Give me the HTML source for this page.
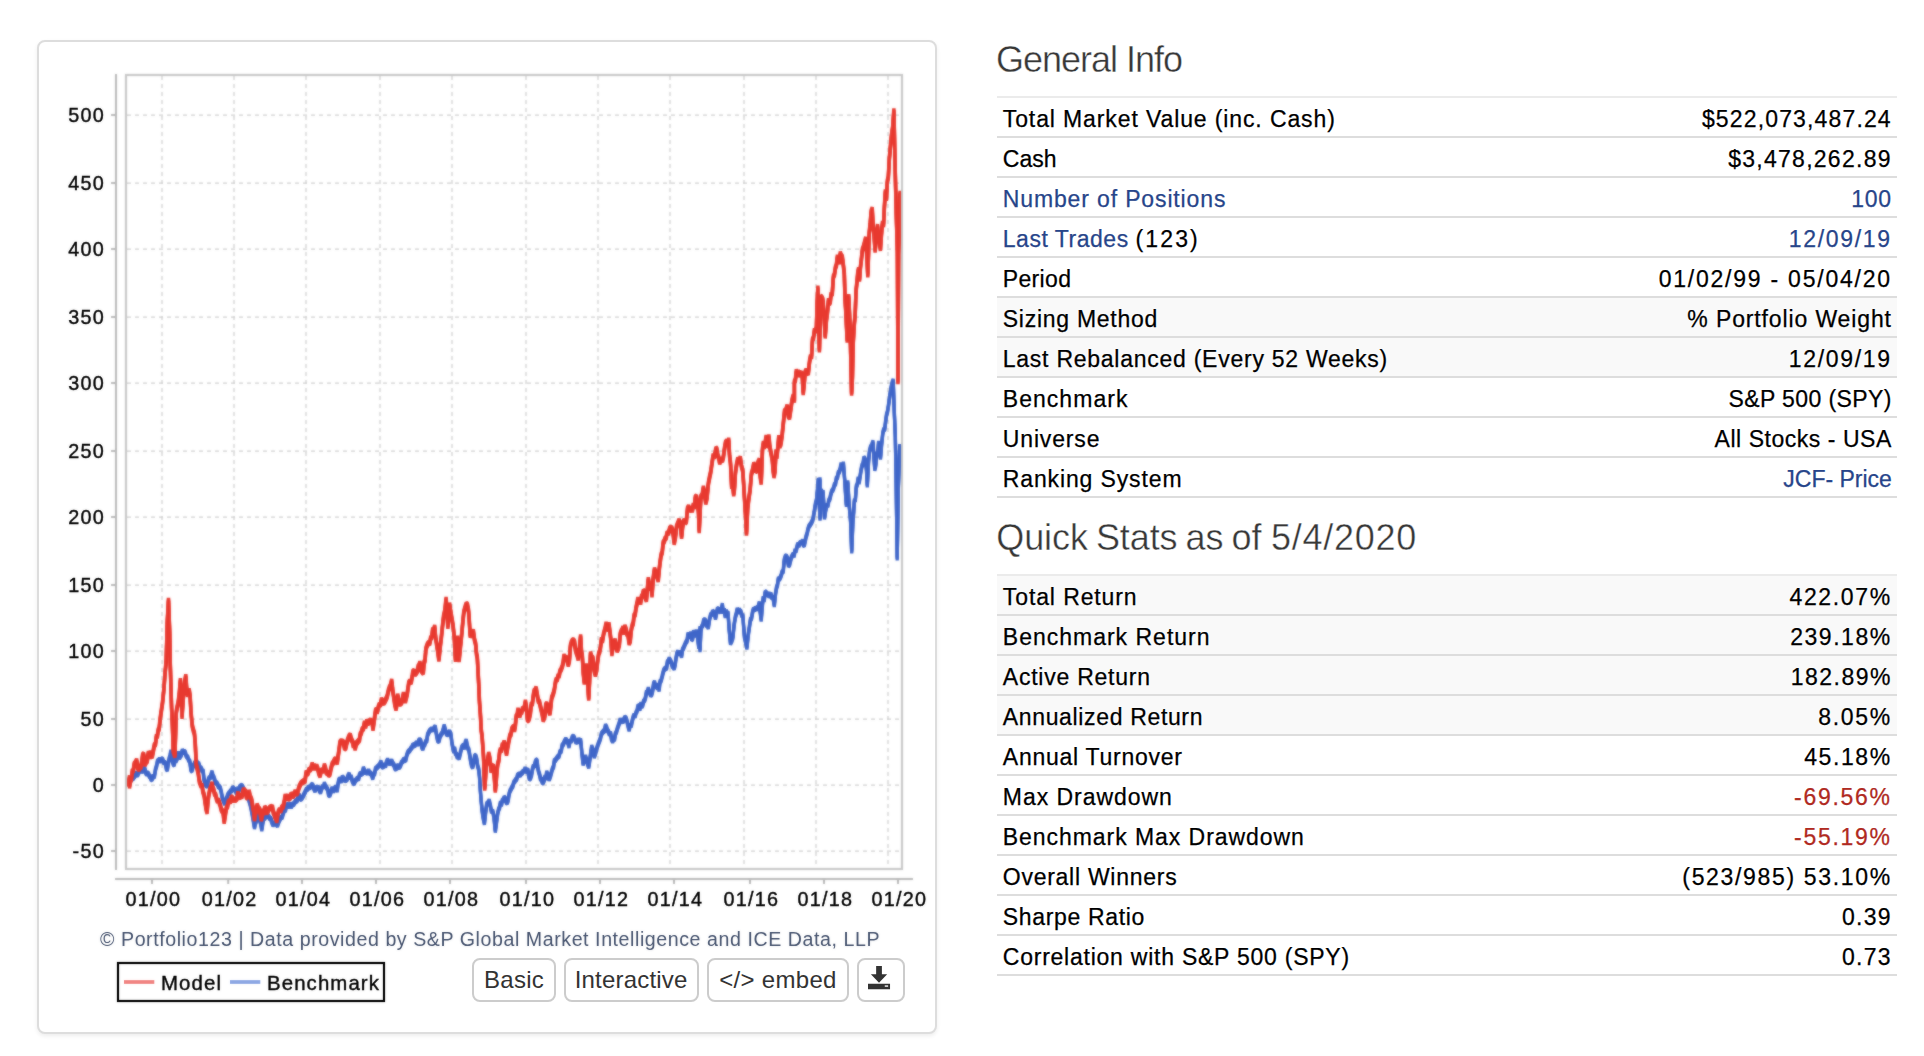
<!DOCTYPE html>
<html><head><meta charset="utf-8"><title>Portfolio</title>
<style>
html,body{margin:0;padding:0;background:#fff}
body{width:1924px;height:1056px;position:relative;overflow:hidden;font-family:"Liberation Sans",sans-serif}
.card{position:absolute;left:37px;top:40px;width:900px;height:994px;box-sizing:border-box;border:2px solid #ddd;border-radius:8px;box-shadow:0 2px 4px rgba(0,0,0,.075);background:#fff}
.btn{position:absolute;top:958px;height:44px;box-sizing:border-box;border:2px solid #ccc;border-radius:8px;background:#fff;color:#333;font-size:24px;line-height:40px;text-align:center;white-space:nowrap}
h3{position:absolute;left:997px;margin:0;font-weight:normal;font-size:36px;line-height:40px;color:#383838;white-space:nowrap;-webkit-text-stroke:0.4px #fff}
.tb{position:absolute;left:997px;width:900px}
.r{position:relative;height:38px;border-top:2px solid #ddd;font-size:23px;line-height:38px;color:#000;white-space:nowrap;-webkit-text-stroke:0.25px}
.r.f{border-top-color:#ebebeb}
.r.g{background:#f9f9f9}
.tb .r:last-child{border-bottom:2px solid #ddd}
.l{position:absolute;left:5.8px;top:2.0px}
.v{position:absolute;right:5.2px;top:2.0px}
.lk{color:#27458a}
.ng{color:#b02a22}
</style></head><body>
<div class="card"></div>
<svg width="960" height="1056" viewBox="0 0 960 1056" style="position:absolute;left:0;top:0">
<defs><filter id="bl" filterUnits="userSpaceOnUse" x="40" y="40" width="900" height="1000" color-interpolation-filters="sRGB"><feGaussianBlur in="SourceGraphic" stdDeviation="0.85" result="b"/><feComposite in="SourceGraphic" in2="b" operator="arithmetic" k1="0" k2="0.4" k3="0.6" k4="0"/></filter><filter id="bt" filterUnits="userSpaceOnUse" x="40" y="40" width="900" height="1000" color-interpolation-filters="sRGB"><feGaussianBlur in="SourceGraphic" stdDeviation="0.85" result="b"/><feComposite in="SourceGraphic" in2="b" operator="arithmetic" k1="0" k2="0.7" k3="0.3" k4="0"/></filter><clipPath id="cp"><rect x="127" y="76" width="774" height="792"/></clipPath></defs>
<g filter="url(#bl)">
<g stroke="#cecece" stroke-width="1.25" stroke-dasharray="4 4" fill="none"><line x1="162" y1="76" x2="162" y2="868"/><line x1="234" y1="76" x2="234" y2="868"/><line x1="306" y1="76" x2="306" y2="868"/><line x1="380" y1="76" x2="380" y2="868"/><line x1="452" y1="76" x2="452" y2="868"/><line x1="526" y1="76" x2="526" y2="868"/><line x1="598" y1="76" x2="598" y2="868"/><line x1="670" y1="76" x2="670" y2="868"/><line x1="744" y1="76" x2="744" y2="868"/><line x1="816" y1="76" x2="816" y2="868"/><line x1="888" y1="76" x2="888" y2="868"/><line x1="127" y1="115" x2="901" y2="115"/><line x1="127" y1="183" x2="901" y2="183"/><line x1="127" y1="249" x2="901" y2="249"/><line x1="127" y1="317" x2="901" y2="317"/><line x1="127" y1="383" x2="901" y2="383"/><line x1="127" y1="451" x2="901" y2="451"/><line x1="127" y1="517" x2="901" y2="517"/><line x1="127" y1="585" x2="901" y2="585"/><line x1="127" y1="651" x2="901" y2="651"/><line x1="127" y1="719" x2="901" y2="719"/><line x1="127" y1="785" x2="901" y2="785"/><line x1="127" y1="851" x2="901" y2="851"/></g>
<rect x="126" y="75" width="776" height="794" fill="none" stroke="#c6c6c6" stroke-width="2.1"/>
<g stroke="#b8b8b8" stroke-width="2" fill="none"><line x1="116" y1="74" x2="116" y2="870"/><line x1="115" y1="879" x2="913" y2="879"/><line x1="111" y1="115" x2="116" y2="115"/><line x1="111" y1="183" x2="116" y2="183"/><line x1="111" y1="249" x2="116" y2="249"/><line x1="111" y1="317" x2="116" y2="317"/><line x1="111" y1="383" x2="116" y2="383"/><line x1="111" y1="451" x2="116" y2="451"/><line x1="111" y1="517" x2="116" y2="517"/><line x1="111" y1="585" x2="116" y2="585"/><line x1="111" y1="651" x2="116" y2="651"/><line x1="111" y1="719" x2="116" y2="719"/><line x1="111" y1="785" x2="116" y2="785"/><line x1="111" y1="851" x2="116" y2="851"/><line x1="152" y1="879" x2="152" y2="884"/><line x1="228.2" y1="879" x2="228.2" y2="884"/><line x1="302" y1="879" x2="302" y2="884"/><line x1="376" y1="879" x2="376" y2="884"/><line x1="450" y1="879" x2="450" y2="884"/><line x1="526" y1="879" x2="526" y2="884"/><line x1="600" y1="879" x2="600" y2="884"/><line x1="674" y1="879" x2="674" y2="884"/><line x1="750" y1="879" x2="750" y2="884"/><line x1="824" y1="879" x2="824" y2="884"/><line x1="898" y1="879" x2="898" y2="884"/></g>
<g clip-path="url(#cp)" fill="none" stroke-linejoin="bevel" stroke-linecap="butt">
<g stroke="#3f66c9" stroke-width="3.3"><path id="sb" d="M128.3 784.4 L129.2 782.5 L130.1 780.8 L130.9 780.1 L131.8 778.3 L132.8 778.9 L133.7 777.3 L134.7 776.2 L135.6 772.9 L136.6 774.5 L137.5 775.1 L138.5 773.0 L139.4 771.1 L140.4 770.7 L141.3 770.6 L142.5 771.1 L143.7 770.1 L144.6 768.1 L145.6 772.2 L146.5 774.1 L147.5 773.4 L148.4 773.7 L149.3 776.0 L150.2 776.8 L151.1 779.2 L152.0 779.3 L153.2 776.4 L154.3 776.8 L155.5 769.5 L156.7 765.5 L157.6 760.8 L158.6 760.9 L159.5 759.0 L160.5 761.4 L161.4 759.2 L162.6 759.5 L163.8 762.7 L164.7 762.3 L165.6 764.1 L166.4 768.7 L167.3 769.9 L168.2 764.1 L169.1 759.0 L170.0 756.3 L170.9 751.1 L172.1 759.5 L173.3 764.0 L174.2 764.8 L175.1 758.9 L175.9 761.1 L176.8 759.1 L177.7 757.6 L178.6 752.6 L179.5 758.0 L180.4 756.0 L181.3 754.8 L182.3 750.4 L183.2 752.1 L184.2 751.9 L185.1 752.1 L186.0 755.2 L186.9 756.7 L187.8 757.5 L188.7 760.1 L189.8 761.4 L191.0 770.2 L192.0 770.5 L192.9 766.7 L193.9 764.8 L194.8 762.9 L195.8 762.6 L196.7 761.5 L197.7 764.0 L198.6 763.3 L199.6 766.8 L200.5 768.1 L201.4 768.5 L202.2 771.2 L203.1 770.5 L204.0 779.3 L205.2 783.5 L206.4 785.8 L207.3 785.6 L208.3 780.1 L209.2 777.8 L210.2 777.8 L211.1 774.8 L212.0 772.0 L212.9 775.6 L213.8 777.3 L214.7 779.9 L215.6 783.1 L216.6 782.8 L217.5 784.2 L218.5 786.6 L219.4 786.7 L220.3 788.2 L221.2 791.7 L222.1 796.7 L223.0 799.5 L223.8 801.4 L224.6 803.7 L225.6 801.1 L226.7 798.5 L227.7 795.0 L228.7 793.4 L229.6 792.9 L230.6 790.8 L231.5 791.1 L232.5 787.8 L233.4 788.5 L234.4 789.5 L235.3 790.0 L236.3 792.7 L237.2 792.4 L238.1 788.1 L238.9 791.1 L239.8 786.8 L240.7 786.2 L241.7 785.8 L242.6 786.8 L243.6 788.9 L244.5 790.7 L245.5 792.5 L246.4 792.3 L247.2 794.3 L248.1 797.1 L249.0 800.5 L250.2 804.5 L251.1 808.2 L251.9 812.6 L252.8 817.5 L253.7 822.7 L254.5 827.7 L255.4 823.0 L256.2 821.4 L257.1 813.8 L258.4 816.2 L259.6 819.8 L260.7 823.5 L261.8 829.8 L262.9 822.1 L263.9 818.3 L265.0 818.0 L266.2 815.4 L267.3 816.0 L268.4 815.9 L269.6 818.3 L270.7 818.3 L271.8 822.2 L273.0 824.8 L274.1 823.4 L275.2 823.4 L276.4 824.3 L277.5 825.5 L278.6 822.1 L279.8 819.7 L280.9 817.2 L282.0 817.7 L283.2 813.5 L284.3 810.3 L285.4 810.5 L286.6 804.5 L287.7 805.3 L288.6 806.8 L289.4 804.7 L290.3 804.4 L291.2 807.0 L292.3 804.3 L293.5 804.4 L294.6 802.7 L295.7 801.0 L296.9 801.0 L298.0 797.9 L299.0 794.8 L300.0 799.1 L301.1 798.7 L302.1 797.9 L303.1 796.1 L304.2 793.9 L305.4 791.5 L306.5 789.2 L307.4 789.3 L308.2 787.8 L309.1 787.2 L310.2 787.4 L311.4 785.2 L312.5 784.8 L313.8 788.3 L315.0 790.9 L316.1 787.5 L317.3 788.0 L318.4 787.4 L319.4 790.5 L320.5 792.3 L321.6 788.6 L322.7 786.5 L323.6 787.1 L324.4 783.5 L325.3 786.0 L326.4 787.4 L327.6 789.5 L328.7 794.9 L329.8 795.4 L331.0 791.9 L332.1 788.2 L333.2 791.0 L334.4 789.4 L335.5 786.9 L336.4 788.6 L337.2 790.9 L338.0 784.2 L338.9 779.8 L340.0 779.4 L341.2 781.5 L342.3 777.0 L343.4 778.0 L344.6 780.5 L345.7 779.8 L346.8 779.9 L348.0 776.0 L349.1 774.1 L350.1 778.0 L351.1 776.4 L352.2 780.8 L353.2 782.7 L354.2 783.4 L355.3 780.7 L356.5 779.5 L357.6 778.2 L358.5 779.2 L359.4 775.2 L360.2 773.7 L361.1 773.7 L362.2 774.0 L363.4 768.2 L364.5 770.6 L365.5 772.7 L366.5 771.9 L367.6 773.2 L368.6 770.5 L369.6 773.0 L370.6 773.3 L371.7 774.9 L372.7 778.3 L373.6 774.5 L374.6 773.8 L375.5 768.8 L376.6 767.9 L377.6 766.9 L378.7 765.7 L379.8 764.5 L380.9 761.8 L382.1 766.5 L383.2 766.9 L384.3 764.7 L385.5 766.1 L386.6 761.8 L387.6 759.9 L388.6 762.2 L389.7 763.6 L390.7 762.1 L391.7 760.9 L392.8 763.5 L393.9 765.0 L394.9 768.2 L396.0 769.2 L397.1 765.7 L398.3 766.7 L399.4 767.3 L400.5 765.5 L401.5 762.5 L402.6 761.5 L403.7 759.5 L404.7 759.9 L405.7 760.2 L406.8 755.2 L407.8 752.5 L408.8 751.2 L409.8 750.4 L410.8 748.6 L411.9 747.5 L412.9 744.9 L413.9 745.3 L414.9 745.5 L415.8 743.6 L416.8 742.9 L417.8 744.6 L418.8 740.5 L419.7 740.1 L420.7 740.8 L421.8 747.0 L422.8 748.9 L423.8 745.6 L424.8 744.3 L425.8 741.3 L426.7 741.1 L427.6 734.7 L428.4 733.2 L429.3 731.3 L430.4 730.1 L431.6 729.0 L432.7 729.7 L433.9 728.4 L435.2 726.7 L436.1 732.2 L436.9 736.7 L437.8 740.8 L438.9 741.1 L440.0 736.6 L441.3 734.2 L442.3 732.9 L443.2 729.5 L444.2 725.8 L445.2 729.5 L446.2 733.2 L447.2 734.7 L448.4 733.7 L449.6 731.5 L450.8 734.0 L452.0 743.4 L452.9 747.9 L453.8 751.6 L454.6 748.1 L455.5 753.8 L456.4 754.0 L457.3 757.4 L458.2 756.6 L459.1 758.2 L460.0 754.6 L460.9 750.7 L461.7 747.4 L462.6 746.2 L463.5 745.5 L464.4 748.2 L465.3 742.6 L466.2 740.4 L467.1 744.8 L467.9 748.2 L468.8 749.7 L469.7 754.9 L470.7 761.4 L471.6 765.4 L472.6 767.3 L473.6 762.9 L474.7 756.1 L475.7 755.8 L476.7 759.1 L477.7 766.2 L478.7 769.3 L479.5 776.6 L480.4 791.3 L481.2 801.1 L482.1 810.5 L483.2 817.8 L484.4 823.5 L485.6 812.6 L486.8 803.7 L488.0 802.9 L489.2 800.6 L490.4 805.9 L491.5 811.8 L492.7 811.0 L493.9 816.7 L495.3 831.3 L496.5 822.3 L497.7 813.5 L498.6 809.5 L499.6 807.5 L500.5 802.5 L501.4 805.0 L502.3 800.5 L503.2 800.2 L504.1 797.6 L505.1 798.3 L506.2 802.0 L507.2 802.9 L508.1 800.4 L509.1 794.0 L510.0 791.0 L510.9 789.4 L511.9 787.4 L512.8 786.1 L513.8 782.5 L514.7 781.4 L515.7 779.7 L516.6 779.3 L517.6 775.4 L518.5 774.6 L519.5 774.6 L520.4 775.1 L521.4 773.2 L522.3 773.0 L523.3 770.9 L524.2 771.5 L525.1 768.3 L526.0 771.8 L526.9 770.5 L527.8 769.6 L528.6 775.4 L529.4 778.7 L530.4 778.3 L531.5 775.0 L532.5 769.2 L533.4 766.0 L534.3 766.3 L535.2 762.6 L536.1 760.4 L537.0 760.5 L537.9 768.4 L538.7 772.1 L539.6 774.5 L540.5 778.9 L541.4 779.4 L542.3 782.5 L543.2 782.5 L544.1 780.4 L545.0 776.6 L545.8 778.6 L546.7 772.1 L547.9 775.4 L549.1 779.5 L550.0 777.4 L550.9 774.5 L551.7 771.4 L552.6 768.4 L553.5 767.0 L554.4 760.5 L555.3 760.4 L556.2 759.0 L557.2 757.6 L558.1 756.5 L559.0 756.2 L560.0 751.6 L561.1 751.6 L562.2 745.2 L563.1 744.8 L564.0 742.4 L564.9 740.7 L565.8 739.2 L566.9 741.4 L567.9 742.4 L569.0 746.7 L570.0 740.7 L571.1 741.5 L572.2 737.2 L573.2 736.7 L574.1 737.5 L575.0 739.7 L576.0 742.2 L576.9 741.5 L577.8 742.0 L578.8 739.4 L579.7 741.1 L580.6 739.9 L581.9 753.0 L583.1 764.3 L584.3 759.7 L585.5 756.4 L586.6 760.3 L587.6 763.9 L588.7 767.2 L589.7 760.5 L590.7 753.5 L591.7 746.5 L593.0 749.9 L594.2 756.7 L595.2 754.3 L596.1 751.1 L597.1 747.4 L598.2 744.3 L599.3 741.6 L600.4 738.5 L601.5 733.7 L602.5 732.5 L603.5 731.1 L604.5 731.1 L605.5 725.4 L606.5 727.2 L607.5 730.3 L608.4 731.5 L609.4 734.3 L610.5 732.9 L611.5 739.2 L612.6 741.3 L613.5 739.4 L614.5 739.6 L615.4 733.7 L616.3 732.3 L617.3 728.9 L618.3 725.9 L619.2 723.5 L620.2 719.6 L621.2 721.8 L622.1 720.8 L623.0 721.7 L624.0 719.1 L624.9 717.5 L626.0 718.3 L627.0 721.2 L628.0 725.6 L629.1 729.9 L630.2 725.1 L631.2 726.0 L632.3 720.5 L633.2 717.2 L634.1 715.2 L635.1 716.4 L636.0 712.7 L637.0 711.2 L638.0 706.0 L638.9 706.4 L639.9 709.3 L640.9 703.3 L641.8 706.5 L642.8 704.7 L643.7 701.1 L644.6 700.4 L645.5 697.8 L646.5 691.8 L647.4 692.2 L648.3 688.6 L649.5 692.4 L650.8 695.1 L651.7 694.5 L652.6 691.0 L653.6 683.9 L654.5 682.0 L655.4 687.1 L656.4 684.5 L657.3 688.3 L658.2 687.6 L659.1 690.1 L660.0 681.7 L661.0 680.9 L661.9 677.5 L662.8 673.9 L663.8 670.1 L664.7 669.0 L665.6 668.3 L666.5 668.7 L667.4 661.8 L668.3 661.3 L669.2 658.8 L670.2 660.3 L671.2 662.3 L672.2 665.9 L673.2 666.9 L674.2 668.3 L675.1 665.0 L676.0 658.4 L677.0 653.2 L677.9 652.0 L678.8 654.2 L679.8 652.0 L680.7 653.4 L681.6 656.4 L682.5 649.5 L683.4 648.3 L684.3 646.1 L685.2 643.9 L686.1 642.0 L687.0 641.2 L688.0 633.9 L688.9 635.5 L689.8 637.0 L690.8 633.0 L691.7 639.3 L692.6 639.0 L693.5 631.6 L694.5 634.2 L695.4 635.6 L696.3 630.9 L697.5 636.7 L698.8 647.5 L700.0 627.4 L700.0 650.8 L700.9 630.5 L701.8 626.4 L702.8 625.2 L703.7 620.1 L704.6 620.2 L705.5 620.7 L706.5 625.3 L707.4 625.7 L708.3 627.6 L709.5 619.4 L710.8 614.4 L711.7 614.7 L712.6 611.5 L713.6 612.4 L714.5 613.3 L715.5 618.4 L716.5 613.4 L717.4 609.1 L718.4 609.2 L719.4 610.8 L720.4 611.6 L721.4 609.8 L722.3 604.5 L723.3 612.2 L724.3 609.7 L725.2 616.7 L726.1 611.1 L727.1 613.4 L728.0 612.4 L729.2 629.8 L730.5 643.5 L731.7 641.0 L732.9 637.5 L734.1 624.9 L735.4 616.9 L736.3 614.0 L737.2 609.1 L738.2 612.5 L739.1 609.8 L740.0 611.1 L741.0 612.0 L741.9 616.0 L742.8 614.9 L743.6 626.1 L744.5 637.3 L745.7 642.5 L746.9 648.1 L748.1 636.1 L749.4 626.9 L750.5 619.5 L751.5 618.4 L752.6 612.0 L753.5 609.1 L754.5 609.6 L755.4 608.2 L756.3 608.9 L757.3 607.8 L758.3 606.9 L759.3 602.7 L760.2 612.0 L761.2 620.2 L762.2 607.1 L763.2 597.5 L764.2 600.6 L765.1 592.3 L766.1 592.6 L767.0 594.9 L768.0 593.3 L768.9 596.0 L769.8 595.3 L770.9 594.1 L771.9 598.0 L773.0 597.1 L774.3 605.7 L775.4 594.7 L776.5 587.8 L777.5 585.0 L778.4 578.3 L779.3 579.2 L780.2 577.7 L781.2 575.5 L782.1 571.9 L783.2 571.6 L784.2 560.4 L785.3 556.7 L786.3 556.2 L787.4 558.4 L788.5 565.5 L789.5 564.8 L790.4 560.8 L791.4 557.4 L792.3 555.7 L793.2 554.1 L794.1 556.0 L795.0 550.1 L796.0 551.1 L796.9 547.3 L797.8 544.0 L798.8 545.8 L799.7 543.5 L800.6 542.4 L801.5 543.0 L802.5 540.7 L803.4 544.8 L804.3 545.2 L805.2 540.8 L806.1 536.6 L807.1 533.6 L808.0 529.3 L808.9 526.5 L809.9 525.2 L810.8 523.8 L811.7 522.3 L812.9 519.4 L814.1 512.8 L815.4 504.3 L816.6 499.5 L817.5 489.5 L818.3 479.2 L819.1 501.5 L820.0 517.5 L820.0 478.7 L820.0 519.4 L821.2 490.3 L822.2 494.4 L823.1 491.5 L824.5 518.1 L825.7 510.2 L826.9 504.9 L827.9 505.9 L828.8 500.4 L829.8 499.1 L830.7 495.0 L831.7 491.2 L832.6 490.3 L833.6 488.1 L834.5 484.6 L835.5 483.9 L836.4 478.1 L837.4 477.9 L838.3 472.7 L839.2 472.0 L840.2 469.0 L841.1 464.0 L842.2 469.1 L843.4 463.1 L844.1 472.7 L844.9 482.5 L845.6 494.3 L846.4 505.5 L847.8 481.8 L849.1 504.8 L849.9 512.7 L850.6 521.6 L851.7 552.1 L852.9 521.3 L853.6 513.4 L854.4 500.2 L855.3 500.6 L856.3 486.5 L857.2 484.8 L858.2 478.1 L859.1 482.8 L860.0 476.9 L861.0 470.5 L862.0 465.5 L862.9 464.7 L863.9 457.8 L864.8 458.7 L865.8 462.0 L866.5 470.3 L867.3 486.0 L868.6 460.6 L869.5 451.3 L870.5 447.3 L871.8 445.3 L873.0 441.8 L873.9 457.4 L874.8 469.4 L875.8 464.9 L876.7 453.3 L877.7 454.0 L878.6 442.2 L879.5 452.8 L880.5 458.1 L881.6 444.6 L882.8 433.2 L883.7 429.6 L884.7 429.3 L885.6 421.7 L886.6 414.6 L887.5 411.8 L888.5 405.3 L889.5 398.0 L890.4 392.1 L891.3 386.7 L892.3 382.6 L893.2 380.2 L894.2 410.0 L895.3 435.8 L896.1 479.8 L897.2 559.0 L898.3 489.4 L899.0 467.9 L899.8 445.4"/><use href="#sb" transform="translate(0,-1.4)"/><use href="#sb" transform="translate(0,1.4)"/></g>
<g stroke="#e8392f" stroke-width="3.5"><path id="sr" d="M128.3 785.1 L129.5 776.9 L129.5 786.8 L130.4 781.3 L131.4 778.9 L132.3 770.9 L133.3 770.9 L134.2 764.1 L135.4 762.9 L136.6 760.2 L137.8 767.8 L138.9 769.4 L139.9 767.0 L140.8 767.5 L141.8 761.8 L142.7 754.8 L143.7 754.4 L144.8 764.7 L146.0 762.3 L147.2 760.9 L148.4 752.6 L149.3 757.2 L150.3 752.3 L151.2 755.7 L152.2 756.7 L153.1 751.9 L154.3 745.5 L155.5 744.0 L156.4 736.1 L157.3 736.6 L158.2 730.3 L159.1 728.9 L160.2 718.9 L161.4 710.4 L162.6 702.2 L163.8 690.3 L165.0 674.1 L166.2 660.6 L167.3 621.6 L168.5 599.5 L169.7 632.4 L170.2 661.8 L171.6 708.4 L172.4 725.8 L173.3 751.4 L174.1 753.5 L174.9 756.1 L176.3 712.2 L177.2 707.0 L178.0 703.9 L179.2 694.9 L180.4 679.8 L181.2 695.8 L182.0 717.3 L182.9 703.5 L183.9 690.3 L184.9 680.7 L185.8 675.8 L186.7 688.7 L187.5 695.2 L188.3 693.2 L189.1 689.9 L190.1 696.1 L191.0 712.3 L192.2 725.5 L193.4 730.5 L194.4 733.3 L195.3 744.2 L196.2 764.4 L197.2 768.6 L198.3 773.5 L199.3 781.0 L200.2 783.6 L201.1 785.9 L202.0 785.3 L202.9 791.6 L204.1 795.0 L205.2 802.8 L206.1 808.8 L207.1 812.3 L207.9 801.6 L208.8 795.0 L209.9 789.5 L211.1 786.6 L212.0 783.4 L212.9 788.3 L213.8 790.3 L214.7 794.2 L215.6 794.7 L216.6 799.0 L217.5 801.1 L218.5 800.1 L219.4 803.0 L220.3 805.4 L221.2 809.3 L222.1 811.2 L223.0 811.4 L224.2 822.2 L225.3 814.8 L226.5 807.6 L227.5 806.5 L228.4 802.0 L229.4 801.0 L230.3 802.0 L231.3 797.6 L232.2 797.6 L233.2 800.6 L234.1 798.9 L235.1 800.1 L236.0 799.3 L236.9 798.6 L237.9 793.0 L238.8 795.9 L239.8 797.8 L240.7 795.1 L241.7 797.1 L242.6 793.2 L243.6 789.3 L244.5 791.0 L245.5 791.2 L246.4 797.1 L247.2 797.4 L248.1 793.1 L249.0 797.2 L249.0 791.3 L250.2 796.6 L251.1 798.5 L251.9 800.8 L252.8 807.3 L253.7 811.1 L254.5 819.6 L255.4 813.8 L256.2 811.2 L257.1 805.1 L258.4 808.3 L259.6 809.4 L260.5 814.9 L261.3 819.7 L262.1 815.9 L263.0 810.5 L263.9 813.6 L264.7 807.5 L265.6 808.4 L266.7 812.7 L267.9 811.1 L269.0 809.1 L270.2 807.3 L271.5 807.4 L272.4 806.7 L273.2 812.0 L274.1 813.8 L275.0 817.2 L275.8 817.8 L276.7 821.3 L277.5 816.2 L278.4 811.9 L279.5 809.7 L280.7 811.1 L281.8 807.4 L283.1 806.8 L284.3 801.4 L285.2 795.6 L286.0 799.2 L286.9 795.8 L288.0 797.9 L289.2 798.5 L290.3 797.4 L291.2 794.0 L292.0 794.9 L292.9 796.1 L294.0 794.9 L295.2 791.5 L296.3 793.5 L297.4 793.3 L298.6 788.9 L299.7 785.8 L300.8 783.5 L301.8 782.5 L302.8 781.8 L303.9 781.1 L305.0 781.1 L306.2 772.1 L307.3 773.9 L308.2 772.6 L309.0 769.5 L309.9 769.8 L311.0 768.3 L312.2 764.0 L313.3 768.4 L314.4 765.6 L315.6 768.6 L316.7 765.8 L317.8 769.0 L319.0 773.6 L320.1 775.9 L321.0 771.1 L321.8 770.5 L322.7 770.5 L323.6 770.0 L324.4 765.2 L325.3 767.6 L326.4 772.7 L327.6 773.0 L328.7 774.7 L329.8 774.3 L331.0 768.5 L332.1 764.2 L333.4 762.5 L334.6 759.8 L335.5 759.4 L336.3 760.4 L337.2 763.0 L338.0 756.9 L338.9 751.1 L340.0 742.3 L341.2 741.2 L342.3 742.0 L343.4 741.9 L344.6 748.3 L345.7 748.0 L346.8 742.9 L348.0 738.9 L349.1 736.2 L350.2 735.0 L351.4 739.5 L352.5 741.7 L353.4 746.3 L354.2 742.3 L355.1 748.8 L356.4 743.4 L357.6 742.1 L358.5 740.8 L359.4 740.2 L360.2 734.5 L361.1 733.3 L362.2 729.4 L363.4 728.6 L364.5 722.5 L365.6 726.9 L366.8 720.9 L367.9 723.4 L369.1 721.6 L370.4 720.4 L371.3 721.7 L372.1 722.0 L373.0 729.2 L374.2 720.6 L375.5 711.0 L376.4 709.4 L377.2 712.2 L378.1 708.2 L379.2 704.7 L380.4 705.1 L381.5 699.3 L382.6 702.1 L383.8 702.9 L384.9 701.3 L386.0 699.2 L387.2 696.4 L388.3 691.2 L389.4 687.7 L390.6 685.3 L391.7 680.6 L392.6 689.2 L393.5 695.5 L394.8 704.2 L396.0 709.1 L396.9 704.0 L397.7 695.2 L398.6 700.0 L399.4 703.7 L400.3 703.5 L401.4 702.9 L402.4 699.6 L403.4 693.7 L404.5 698.0 L405.4 701.5 L406.2 697.8 L407.1 694.7 L408.0 688.5 L408.8 682.9 L409.9 681.2 L411.1 682.7 L412.2 676.5 L413.0 671.5 L413.9 671.2 L415.0 674.2 L416.2 673.0 L417.3 671.1 L418.2 666.4 L419.0 665.9 L419.9 662.7 L421.1 670.2 L422.4 672.0 L423.3 672.8 L424.1 662.3 L425.0 660.6 L425.9 648.8 L426.9 645.9 L427.8 643.9 L428.8 643.0 L429.7 643.7 L430.7 637.9 L431.7 637.5 L432.7 629.4 L433.7 630.1 L434.7 626.5 L435.6 637.4 L436.6 643.9 L437.8 651.5 L438.9 660.0 L440.1 647.8 L441.3 637.8 L442.5 626.1 L443.7 615.7 L444.9 610.7 L446.1 598.4 L447.0 612.1 L447.9 627.2 L448.8 614.0 L449.6 604.2 L450.8 612.5 L452.0 619.4 L453.1 626.0 L454.3 637.5 L455.5 660.3 L456.4 653.0 L457.4 637.2 L458.2 648.4 L459.1 660.5 L460.2 648.9 L461.4 637.4 L462.6 624.6 L463.8 612.3 L465.0 607.9 L466.2 604.0 L467.4 604.7 L468.6 611.2 L469.4 622.8 L470.2 636.1 L471.2 634.2 L472.3 634.7 L473.3 630.9 L474.5 639.7 L475.7 644.3 L476.5 653.9 L477.3 657.4 L478.7 683.8 L479.5 702.3 L480.4 714.3 L481.2 730.0 L482.1 736.4 L483.5 756.2 L484.7 789.0 L485.5 778.4 L486.3 764.6 L487.5 761.2 L488.7 753.5 L489.9 758.7 L491.1 771.3 L492.2 766.6 L493.4 765.9 L494.4 778.5 L495.3 791.1 L496.1 782.5 L497.0 770.0 L497.9 763.1 L498.8 760.6 L499.6 752.4 L500.5 749.4 L501.4 750.8 L502.3 744.6 L503.2 745.2 L504.1 742.0 L505.3 746.9 L506.5 754.1 L507.4 748.8 L508.2 744.5 L509.1 739.7 L510.0 735.2 L510.9 734.7 L511.8 729.1 L512.7 727.8 L513.6 726.8 L514.5 730.3 L515.4 724.9 L516.2 715.9 L517.1 715.6 L518.0 709.4 L518.9 713.0 L519.8 716.0 L520.7 712.4 L521.6 712.4 L522.6 708.4 L523.5 709.0 L524.5 706.9 L525.4 701.5 L526.4 707.2 L527.5 720.1 L528.5 720.0 L529.4 717.7 L530.4 713.0 L531.3 704.1 L532.3 704.3 L533.2 696.5 L534.2 690.6 L535.1 690.6 L536.1 688.1 L537.2 694.6 L538.4 701.4 L539.4 701.8 L540.3 706.0 L541.3 710.3 L542.2 713.9 L543.2 720.1 L544.1 718.2 L545.0 715.3 L545.8 704.7 L546.7 704.0 L547.9 706.3 L549.1 711.6 L550.0 713.7 L550.9 705.4 L551.7 697.7 L552.6 695.7 L553.5 693.1 L554.4 689.5 L555.3 683.1 L556.2 679.6 L557.2 679.9 L558.1 675.6 L559.0 676.3 L560.0 671.2 L561.1 669.5 L562.2 666.6 L563.1 663.2 L564.0 655.5 L564.9 659.3 L565.8 657.1 L567.0 659.7 L568.3 665.1 L569.4 660.4 L570.4 646.1 L571.5 642.2 L572.5 640.6 L573.5 640.2 L574.5 641.9 L575.4 649.4 L576.4 652.9 L577.3 655.3 L578.2 659.0 L579.4 648.8 L580.6 635.9 L581.5 651.7 L582.3 656.0 L583.3 673.3 L584.3 683.0 L585.3 676.0 L586.3 665.0 L587.5 680.4 L588.7 699.1 L589.6 680.8 L590.5 653.1 L591.7 657.4 L592.9 658.1 L594.1 669.9 L595.4 675.1 L596.6 670.2 L597.9 659.1 L598.8 653.3 L599.7 651.5 L600.6 646.8 L601.5 638.8 L602.4 641.3 L603.4 635.1 L604.3 631.5 L605.2 628.4 L606.1 623.5 L607.0 628.4 L608.0 628.6 L608.9 623.7 L609.9 631.7 L610.9 639.9 L611.9 654.5 L613.0 645.5 L614.0 642.7 L615.1 640.2 L616.2 647.1 L617.2 650.7 L618.3 648.3 L619.3 645.0 L620.2 634.3 L621.2 631.4 L622.1 630.1 L623.0 627.6 L624.0 633.0 L624.9 626.4 L626.0 629.2 L627.0 634.3 L628.0 634.6 L629.1 643.4 L630.2 641.2 L631.2 630.2 L632.3 625.2 L633.2 623.5 L634.1 615.3 L635.1 614.8 L636.0 608.0 L636.9 604.3 L637.9 598.7 L638.8 601.0 L639.7 599.3 L640.6 603.1 L641.5 596.7 L642.5 595.4 L643.4 591.2 L644.4 591.8 L645.4 597.8 L646.4 600.2 L647.3 589.8 L648.3 578.8 L649.2 584.2 L650.1 588.8 L651.1 586.6 L652.0 595.7 L653.2 578.5 L654.5 569.1 L655.4 571.9 L656.4 573.8 L657.3 577.4 L658.2 580.4 L659.2 569.8 L660.1 561.9 L661.1 555.1 L662.2 552.4 L663.2 542.6 L664.3 541.2 L665.2 538.3 L666.1 538.2 L667.1 532.9 L668.0 533.5 L668.9 531.6 L669.9 528.2 L670.8 528.1 L671.7 527.8 L673.0 532.5 L674.2 543.2 L675.4 537.2 L676.6 526.6 L677.9 523.2 L679.1 520.4 L680.4 524.4 L681.6 537.3 L682.5 527.8 L683.4 522.0 L684.3 520.5 L685.2 522.8 L685.2 522.3 L686.3 521.8 L687.5 508.7 L688.6 506.6 L689.5 510.5 L690.5 509.1 L691.4 508.4 L692.3 510.9 L693.3 504.7 L694.3 507.4 L695.3 497.2 L696.5 496.6 L697.7 504.7 L698.5 512.4 L699.2 531.6 L700.0 514.3 L700.9 496.5 L702.1 495.6 L703.4 487.4 L704.6 494.0 L705.8 502.9 L707.0 498.1 L708.3 484.0 L709.5 477.7 L710.8 471.6 L712.0 463.1 L713.2 455.1 L714.1 457.1 L715.0 453.7 L716.0 448.4 L716.9 449.3 L717.8 455.5 L718.8 458.1 L719.7 462.8 L720.6 460.3 L721.5 459.7 L722.5 460.4 L723.4 457.0 L724.3 450.0 L725.5 442.8 L726.8 441.2 L727.8 444.3 L728.7 439.3 L729.6 456.0 L730.5 463.1 L731.7 487.2 L732.7 485.2 L733.7 494.8 L734.5 488.4 L735.4 473.1 L736.6 464.5 L737.8 459.1 L739.0 461.0 L740.3 457.9 L741.5 466.2 L742.8 470.9 L743.6 483.2 L744.5 498.5 L745.5 514.7 L746.5 534.1 L747.7 507.7 L748.9 498.0 L750.1 489.9 L751.4 474.0 L752.6 470.2 L753.8 463.8 L754.8 466.2 L755.8 470.8 L756.8 470.6 L758.0 462.6 L759.3 459.9 L760.2 476.1 L761.2 483.1 L762.5 449.0 L763.4 442.7 L764.3 447.3 L765.2 443.3 L766.1 436.6 L767.0 445.8 L768.0 445.0 L768.9 436.0 L769.8 446.9 L771.0 452.9 L772.3 459.7 L773.1 470.2 L774.0 476.5 L775.0 471.1 L776.0 450.9 L776.9 457.3 L777.9 446.9 L778.8 436.7 L779.7 446.3 L780.9 443.8 L782.1 435.4 L783.4 422.7 L784.6 410.8 L785.9 410.5 L787.1 406.1 L788.3 415.7 L789.5 417.8 L790.8 409.2 L792.0 400.5 L793.2 395.8 L794.4 401.1 L794.4 381.7 L795.4 380.1 L796.3 370.8 L797.3 374.8 L798.3 371.6 L799.3 375.4 L800.3 373.6 L801.3 373.0 L802.2 375.2 L803.2 393.5 L804.2 384.1 L805.1 372.6 L806.1 370.2 L807.2 372.4 L808.3 373.4 L809.4 362.7 L810.5 356.5 L811.5 357.3 L812.5 339.6 L813.5 337.8 L814.5 329.8 L815.4 331.4 L816.4 328.1 L817.1 303.4 L817.9 287.2 L818.6 322.0 L819.4 350.9 L820.8 297.0 L821.8 297.5 L822.9 299.9 L824.0 314.3 L825.2 336.9 L826.4 320.4 L827.6 311.1 L828.5 299.8 L829.4 302.8 L830.2 302.3 L831.1 294.0 L832.2 294.3 L833.4 276.7 L834.4 274.8 L835.4 267.9 L836.4 265.2 L837.4 256.4 L838.3 259.4 L839.3 262.6 L840.3 253.1 L841.2 256.1 L842.2 256.5 L843.2 264.0 L844.3 273.4 L845.0 298.3 L845.8 311.5 L847.2 341.0 L848.0 311.6 L848.7 295.7 L849.5 313.6 L850.2 332.8 L851.6 394.0 L852.4 378.1 L853.1 345.2 L854.2 325.2 L855.2 314.3 L856.0 291.3 L856.9 282.8 L857.8 273.0 L858.6 268.9 L859.5 280.1 L860.4 267.7 L861.4 259.2 L862.4 249.8 L863.4 247.2 L864.5 243.0 L865.7 238.4 L866.8 255.2 L867.8 275.9 L869.2 233.0 L870.2 223.8 L871.2 211.4 L872.2 208.7 L873.2 227.6 L874.1 235.5 L875.1 251.1 L876.3 237.3 L877.5 225.6 L878.5 239.6 L879.4 240.2 L880.4 249.4 L881.5 233.7 L882.5 222.6 L883.5 225.6 L884.4 206.9 L885.4 190.9 L886.4 199.2 L887.3 181.6 L888.3 177.6 L889.3 159.2 L890.4 146.9 L891.5 135.6 L892.7 127.3 L893.9 110.0 L895.1 165.9 L896.3 214.6 L897.4 252.2 L898.0 382.7 L898.6 253.7 L899.4 226.5 L900.1 192.4"/><use href="#sr" transform="translate(0,-1.6)"/><use href="#sr" transform="translate(0,1.6)"/></g>
</g>
</g><g filter="url(#bt)">
<g font-family="Liberation Sans, sans-serif" font-size="19.8" letter-spacing="1.25" fill="#000" stroke="#000" stroke-width="0.4"><text x="104.9" y="122.2" text-anchor="end">500</text><text x="104.9" y="190.2" text-anchor="end">450</text><text x="104.9" y="256.2" text-anchor="end">400</text><text x="104.9" y="324.2" text-anchor="end">350</text><text x="104.9" y="390.2" text-anchor="end">300</text><text x="104.9" y="458.2" text-anchor="end">250</text><text x="104.9" y="524.2" text-anchor="end">200</text><text x="104.9" y="592.2" text-anchor="end">150</text><text x="104.9" y="658.2" text-anchor="end">100</text><text x="104.9" y="726.2" text-anchor="end">50</text><text x="104.9" y="792.2" text-anchor="end">0</text><text x="104.9" y="858.2" text-anchor="end">-50</text><text x="153.4" y="905.8" text-anchor="middle">01/00</text><text x="229.6" y="905.8" text-anchor="middle">01/02</text><text x="303.4" y="905.8" text-anchor="middle">01/04</text><text x="377.4" y="905.8" text-anchor="middle">01/06</text><text x="451.4" y="905.8" text-anchor="middle">01/08</text><text x="527.4" y="905.8" text-anchor="middle">01/10</text><text x="601.4" y="905.8" text-anchor="middle">01/12</text><text x="675.4" y="905.8" text-anchor="middle">01/14</text><text x="751.4" y="905.8" text-anchor="middle">01/16</text><text x="825.4" y="905.8" text-anchor="middle">01/18</text><text x="899.4" y="905.8" text-anchor="middle">01/20</text></g>
<text x="100" y="945.8" font-family="Liberation Sans, sans-serif" font-size="19.6" fill="#404e6a" textLength="779.5" lengthAdjust="spacing">© Portfolio123 | Data provided by S&amp;P Global Market Intelligence and ICE Data, LLP</text>
<rect x="118" y="963" width="266" height="38" fill="#fff" stroke="#000" stroke-width="2.2"/>
<line x1="124" y1="982" x2="154.3" y2="982" stroke="#f0817f" stroke-width="3.7"/>
<line x1="230" y1="982" x2="260.3" y2="982" stroke="#8aa5e3" stroke-width="3.7"/>
<g font-family="Liberation Sans, sans-serif" font-size="20.4" letter-spacing="1.1" fill="#000" stroke="#000" stroke-width="0.4"><text x="161" y="989.9">Model</text><text x="267" y="989.9">Benchmark</text></g>
</g>
</svg>
<div class="btn" style="left:472px;width:84px;letter-spacing:0.25px">Basic</div>
<div class="btn" style="left:563.6px;width:135px;letter-spacing:0.2px">Interactive</div>
<div class="btn" style="left:707px;width:142px;letter-spacing:0.3px">&lt;/&gt; embed</div>
<div class="btn" style="left:857px;width:48px"><svg width="23" height="25" viewBox="0 0 24 26" style="position:absolute;left:9.3px;top:6px"><path d="M8.5 0h6v8.5h5.5L11.5 17.5 3 8.5h5.5z M0 18.5h23v5.8h-23z" fill="#333"/><rect x="17.5" y="20.2" width="3.5" height="1.4" fill="#fff"/></svg></div>
<h3 style="top:40px;left:996px;letter-spacing:-1.0px">General Info</h3>
<div class="tb" style="top:96px">
<div class="r f"><span class="l" id="a_0_l" style="letter-spacing:0.884px">Total Market Value (inc. Cash)</span><span class="v" id="a_0_v" style="letter-spacing:1.151px">$522,073,487.24</span></div>
<div class="r"><span class="l" id="a_1_l" style="letter-spacing:-0.015px">Cash</span><span class="v" id="a_1_v" style="letter-spacing:1.276px">$3,478,262.89</span></div>
<div class="r"><span class="l" id="a_2_l" style="letter-spacing:0.861px"><span class="lk">Number of Positions</span></span><span class="v lk" id="a_2_v" style="letter-spacing:0.7px">100</span></div>
<div class="r"><span class="l" id="a_3_l" style="letter-spacing:0.913px"><span class="lk" style="letter-spacing:0.52px">Last Trades </span><span style="letter-spacing:2.1px">(123)</span></span><span class="v lk" id="a_3_v" style="letter-spacing:1.681px">12/09/19</span></div>
<div class="r"><span class="l" id="a_4_l" style="letter-spacing:0.33px">Period</span><span class="v" id="a_4_v" style="letter-spacing:1.772px">01/02/99 - 05/04/20</span></div>
<div class="r g"><span class="l" id="a_5_l" style="letter-spacing:0.724px">Sizing Method</span><span class="v" id="a_5_v" style="letter-spacing:0.871px">% Portfolio Weight</span></div>
<div class="r g"><span class="l" id="a_6_l" style="letter-spacing:0.744px">Last Rebalanced (Every 52 Weeks)</span><span class="v" id="a_6_v" style="letter-spacing:1.681px">12/09/19</span></div>
<div class="r"><span class="l" id="a_7_l" style="letter-spacing:1.036px">Benchmark</span><span class="v" id="a_7_v" style="letter-spacing:0.41px">S&amp;P 500 (SPY)</span></div>
<div class="r"><span class="l" id="a_8_l" style="letter-spacing:0.85px">Universe</span><span class="v" id="a_8_v" style="letter-spacing:0.533px">All Stocks - USA</span></div>
<div class="r"><span class="l" id="a_9_l" style="letter-spacing:0.868px">Ranking System</span><span class="v lk" id="a_9_v" style="letter-spacing:-0.015px">JCF- Price</span></div>
</div>
<h3 style="top:517.5px;left:996.3px;letter-spacing:-0.1px;word-spacing:-1.8px">Quick Stats as of <span style="letter-spacing:0.72px;margin-left:1.6px">5/4/2020</span></h3>
<div class="tb" style="top:574px">
<div class="r g f"><span class="l" id="b_0_l" style="letter-spacing:0.895px">Total Return</span><span class="v" id="b_0_v" style="letter-spacing:1.649px">422.07%</span></div>
<div class="r g"><span class="l" id="b_1_l" style="letter-spacing:0.997px">Benchmark Return</span><span class="v" id="b_1_v" style="letter-spacing:1.551px">239.18%</span></div>
<div class="r g"><span class="l" id="b_2_l" style="letter-spacing:0.767px">Active Return</span><span class="v" id="b_2_v" style="letter-spacing:1.466px">182.89%</span></div>
<div class="r g"><span class="l" id="b_3_l" style="letter-spacing:0.653px">Annualized Return</span><span class="v" id="b_3_v" style="letter-spacing:1.65px">8.05%</span></div>
<div class="r"><span class="l" id="b_4_l" style="letter-spacing:0.743px">Annual Turnover</span><span class="v" id="b_4_v" style="letter-spacing:1.61px">45.18%</span></div>
<div class="r"><span class="l" id="b_5_l" style="letter-spacing:0.96px">Max Drawdown</span><span class="v ng" id="b_5_v" style="letter-spacing:1.734px">-69.56%</span></div>
<div class="r"><span class="l" id="b_6_l" style="letter-spacing:0.946px">Benchmark Max Drawdown</span><span class="v ng" id="b_6_v" style="letter-spacing:1.734px">-55.19%</span></div>
<div class="r"><span class="l" id="b_7_l" style="letter-spacing:0.735px">Overall Winners</span><span class="v" id="b_7_v" style="letter-spacing:1.664px">(523/985) 53.10%</span></div>
<div class="r"><span class="l" id="b_8_l" style="letter-spacing:0.668px">Sharpe Ratio</span><span class="v" id="b_8_v" style="letter-spacing:1.283px">0.39</span></div>
<div class="r"><span class="l" id="b_9_l" style="letter-spacing:0.76px">Correlation with S&amp;P 500 (SPY)</span><span class="v" id="b_9_v" style="letter-spacing:1.283px">0.73</span></div>
</div>
</body></html>
